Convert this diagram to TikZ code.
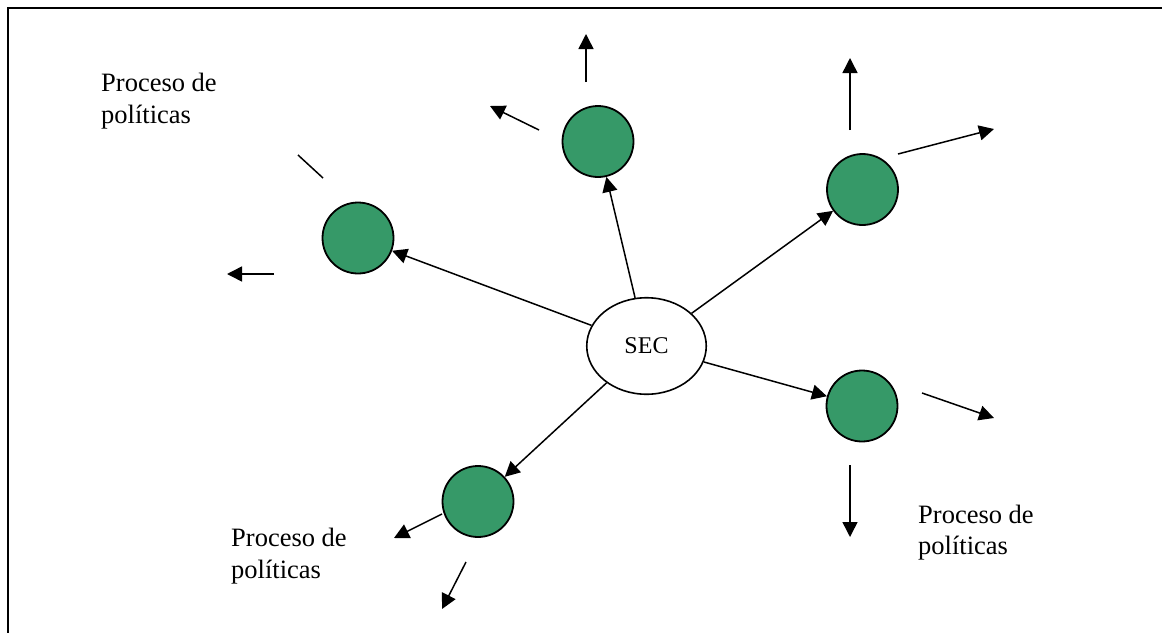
\documentclass[tikz,border=0pt]{standalone}
\usepackage{fontspec}
\setmainfont{Liberation Serif}
\usetikzlibrary{arrows.meta,shapes.geometric}
\definecolor{verde}{RGB}{54,153,104}
\tikzset{
  actor/.style={circle, draw, fill=verde, line width=1.8pt, minimum size=71pt, inner sep=0pt},
  flecha/.style={-{Triangle[length=15pt,width=15pt]}, line width=1.5pt},
  texto/.style={anchor=base west, align=left, inner sep=0pt, font=\fontsize{26.5}{31.6}\selectfont}
}
\begin{document}
\begin{tikzpicture}[x=1pt,y=-1pt]
    \useasboundingbox (0,0) rectangle (1162,632);
    \begin{scope}
    \clip (0,0) rectangle (1162,632);
    \draw [line width=1.8pt] (8,8) rectangle (1180,650);
    \end{scope}
    % centro y actores
    \node [ellipse, draw, line width=1.6pt, minimum width=119.5pt, minimum height=96.5pt, inner sep=0pt, font=\fontsize{24}{28}\selectfont] (sec) at (646.5,346) {SEC};
    \node [actor] (arriba) at (598,141.5) {};
    \node [actor] (derarriba) at (862.5,189.5) {};
    \node [actor] (izq) at (358,238) {};
    \node [actor] (derabajo) at (862,406) {};
    \node [actor] (izqabajo) at (478,501.5) {};
    \draw [flecha] (sec) -- (arriba);
    \draw [flecha] (sec) -- (derarriba);
    \draw [flecha] (sec) -- (izq);
    \draw [flecha] (sec) -- (derabajo);
    \draw [flecha] (sec) -- (izqabajo);
    % flechas sueltas
    \coordinate (a1) at (586,82);   \coordinate (a1f) at (586,34);
    \coordinate (a2) at (539,130);  \coordinate (a2f) at (490,106);
    \coordinate (b1) at (850,130);  \coordinate (b1f) at (850,58);
    \coordinate (b2) at (898,154);  \coordinate (b2f) at (994,129);
    \coordinate (c1) at (298,155);  \coordinate (c1f) at (323,178);
    \coordinate (c2) at (274,274);  \coordinate (c2f) at (227,274);
    \coordinate (d1) at (442,514);  \coordinate (d1f) at (394,538);
    \coordinate (d2) at (466,562);  \coordinate (d2f) at (442,609);
    \coordinate (e1) at (922,393);  \coordinate (e1f) at (994,418);
    \coordinate (e2) at (850,465);  \coordinate (e2f) at (850,537);
    \draw [flecha] (a1) -- (a1f);
    \draw [flecha] (a2) -- (a2f);
    \draw [flecha] (b1) -- (b1f);
    \draw [flecha] (b2) -- (b2f);
    \draw [line width=1.5pt] (c1) -- (c1f);
    \draw [flecha] (c2) -- (c2f);
    \draw [flecha] (d1) -- (d1f);
    \draw [flecha] (d2) -- (d2f);
    \draw [flecha] (e1) -- (e1f);
    \draw [flecha] (e2) -- (e2f);
    % textos
    \node [texto] (t1) at (101,123.3) {Proceso de\\políticas};
    \node [texto] (t2) at (231,578) {Proceso de\\políticas};
    \node [texto] (t3) at (918,554.6) {Proceso de\\políticas};
\end{tikzpicture}
\end{document}
